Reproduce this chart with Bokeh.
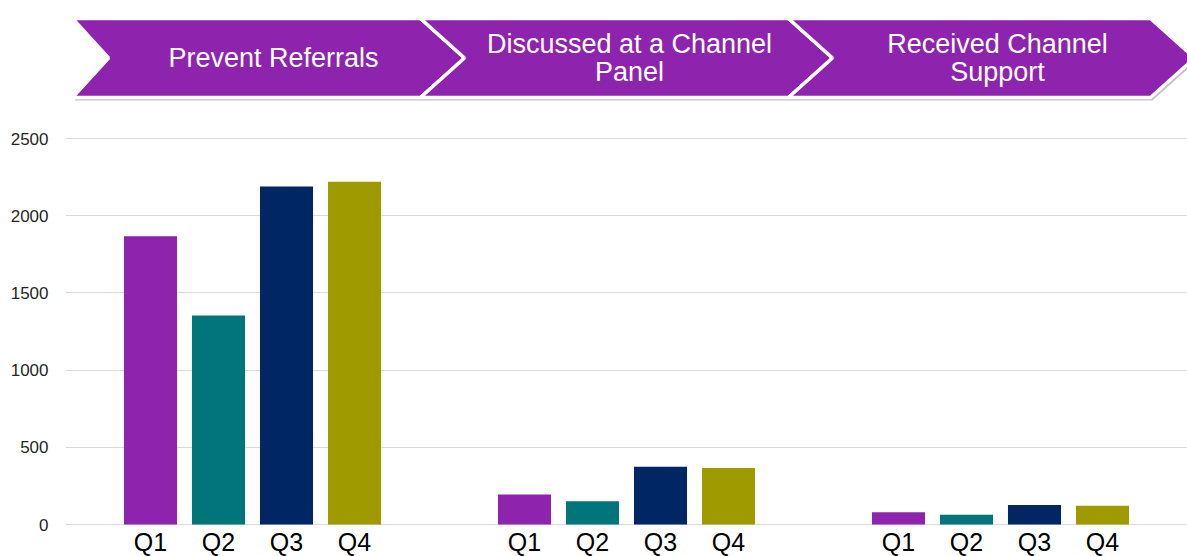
from bokeh.plotting import figure
from bokeh.models import FactorRange, Range1d, SingleIntervalTicker, ColumnDataSource
from bokeh.layouts import column
from bokeh.transform import factor_cmap
from bokeh.core.properties import value
from bokeh.embed import file_html
from bokeh.resources import INLINE

# ---- data ----
stages = ["Prevent Referrals", "Discussed at a Channel Panel", "Received Channel Support"]
stage_titles = ["Prevent Referrals", "Discussed at a Channel\nPanel", "Received Channel\nSupport"]
quarters = ["Q1", "Q2", "Q3", "Q4"]
prevent = [1867, 1354, 2189, 2220]
discussed = [194, 151, 374, 367]
received = [80, 63, 127, 121]
y_ticks_interval = 500

# ---- styles ----
FONT = "Liberation Sans"
colors = ["#8E24AE", "#00767A", "#002663", "#9E9A00"]
header_purple = "#8E24AE"
W = 1187
LEFT = 65

# ---- header (chevrons) in page pixel coordinates ----
hdr = figure(width=W, height=108, x_range=Range1d(LEFT, W), y_range=Range1d(108, 0),
             output_backend="svg", toolbar_location=None,
             x_axis_location=None, y_axis_location=None,
             min_border_left=LEFT, min_border_right=0, min_border_top=0, min_border_bottom=0)
hdr.grid.visible = False
hdr.outline_line_color = None

chev_start = [72, 420, 788]
chev_end = [420, 788, 1150]
notch = [36, 44, 44]
tip = 44
top, bot = 18, 97
mid = (top + bot) / 2
xs, ys, sxs, sys_ = [], [], [], []
for s, e, n in zip(chev_start, chev_end, notch):
    px = [s, e, e + tip, e, s, s + n]
    py = [top, top, mid, bot, bot, mid]
    xs.append(px); ys.append(py)
    sxs.append([v + 2 for v in px]); sys_.append([v + 3 for v in py])
hdr.patches(sxs, sys_, fill_color="#7a7a7a", fill_alpha=0.45, line_color=None)
hdr.patches(xs, ys, fill_color=header_purple, line_color="white", line_width=3.5)
title_x = [273, 629, 997]
hdr.text(x=title_x, y=[mid] * 3, text=stage_titles, text_align="center",
         text_baseline="middle", text_color="white", text_font=value(FONT),
         text_font_size="27px", text_line_height=0.92)

# ---- chart ----
factors = [(s, q) for s in stages for q in quarters]
vals = prevent + discussed + received
src = ColumnDataSource(dict(x=factors, v=vals, q=[q for _ in stages for q in quarters]))

x_range = FactorRange(*factors, factor_padding=0, group_padding=1.5, range_padding=0.1)
p = figure(width=W, height=448, x_range=x_range, y_range=Range1d(-207, 2617),
           output_backend="svg", toolbar_location=None, x_axis_location=None,
           min_border_left=LEFT, min_border_right=0, min_border_top=12, min_border_bottom=0)
p.outline_line_color = None
p.xgrid.visible = False
p.ygrid.grid_line_color = "#d9d9d9"
p.ygrid.grid_line_width = 1
p.yaxis.ticker = SingleIntervalTicker(interval=y_ticks_interval)
p.yaxis.axis_line_color = None
p.yaxis.major_tick_line_color = None
p.yaxis.minor_tick_line_color = None
p.yaxis.major_tick_out = 0
p.yaxis.major_tick_in = 0
p.yaxis.minor_tick_out = 0
p.yaxis.major_label_standoff = 17
p.yaxis.major_label_text_font = FONT
p.yaxis.major_label_text_font_size = "17px"
p.yaxis.major_label_text_color = "#262626"

p.vbar(x="x", top="v", width=0.78, source=src,
       fill_color=factor_cmap("x", palette=colors, factors=quarters, start=1, end=2),
       line_color=None)
p.text(x="x", y=0, text="q", source=src, text_align="center", text_baseline="top",
       y_offset=3, text_font=value(FONT), text_font_size="25px", text_color="black")

layout = column(hdr, p)
open("out.html", "w").write(file_html(layout, INLINE))
